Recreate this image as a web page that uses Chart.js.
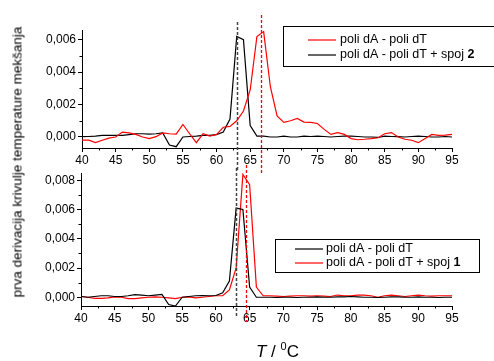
<!DOCTYPE html>
<html>
<head>
<meta charset="utf-8">
<script src="https://cdn.jsdelivr.net/npm/chart.js@4.4.0/dist/chart.umd.min.js"></script>
<style>
  body { margin: 0; background: #fff; }
  #wrap { position: relative; width: 494px; height: 361px; overflow: hidden; font-family: 'Liberation Sans', Arial, sans-serif; }
  #wrap canvas { position: absolute; left: 0; top: 0; }
  #ytitle { position: absolute; left: 17px; top: 162px; transform: translate(-50%, -50%) rotate(-90deg); white-space: nowrap; font-size: 13.5px; color: #000; }
  #xtitle { position: absolute; left: 256px; top: 340px; white-space: nowrap; font-size: 17px; color: #000; }
  #xtitle sup { font-size: 11px; vertical-align: 7px; }
</style>
</head>
<body>
<div id="wrap">
  <canvas id="gornji" width="494" height="361"></canvas>
  <canvas id="donji" width="494" height="361"></canvas>
  <div id="ytitle">prva derivacija krivulje temperature mekšanja</div>
  <div id="xtitle"><i>T</i> / <sup>0</sup>C</div>
</div>
<script>
// temperatura (°C)
var temps = [40,41,42,43,44,45,46,47,48,49,50,51,52,53,54,55,56,57,58,59,
  60,61,62,63,64,65,66,67,68,69,70,71,72,73,74,75,76,77,78,79,
  80,81,82,83,84,85,86,87,88,89,90,91,92,93,94,95];

// gornji graf: poli dA - poli dT (crveno)
var gornjiDna = [-0.0002,-0.0002,-0.00035,-0.0002,-0.00007,0,0.0003,0.00025,0.00016,0,
  -0.0001,0.00002,0.00025,0.0002,0.00018,0.00077,0.0002,-0.00035,0.0002,0.00005,
  0.00015,0.0006,0.00065,0.001,0.0016,0.0029,0.0062,0.0065,0.0031,0.0013,
  0.0009,0.001,0.00114,0.00092,0.0009,0.00083,0.00047,0.00016,0.00027,0.00016,
  -0.0001,-0.00017,-0.00014,-0.0001,-0.00005,0.0002,0.00027,0,-0.00014,-0.0002,
  -0.00035,-0.0001,0.00016,0.0001,0.00012,0.00016];
// gornji graf: poli dA - poli dT + spoj 2 (crno)
var gornjiSpoj2 = [0.00002,0.00003,0.00005,0.0001,0.0001,0.0001,0.0001,0.00015,0.0002,0.0002,
  0.00018,0.0002,0.00025,-0.0005,-0.0006,0,0.00003,0.00005,0.0001,0.0001,
  0.00015,0.0003,0.0011,0.0062,0.006,0.0007,0.00005,0.00005,0,0,
  0.00005,0,0,0.00005,0.00003,0.00005,0.00003,0,0.00003,0.00005,
  0.00005,0.00003,0,0,-0.00003,0.00005,0.00003,0.00002,0,0.00003,
  0.00005,0.00003,0,0,0.00003,0];

// donji graf: poli dA - poli dT (crno)
var donjiDna = [0.00005,0,0.00005,0.0001,0.0001,0.00005,0.00005,0.0001,0.00018,0.00015,
  0.0001,0.00015,0.0002,-0.0005,-0.0006,0,0.00005,0.0001,0.00012,0.0001,
  0.00012,0.0003,0.0011,0.0061,0.006,0.0007,0,0,0,-0.00002,
  0,0,-0.00002,0,0,0.00002,0,0,0.00003,0.00002,
  0.00005,0.00002,0,0,-0.00002,0,0.00003,0.00002,0,0,
  0.00002,0,0,-0.00002,0,0];
// donji graf: poli dA - poli dT + spoj 1 (crveno)
var donjiSpoj1 = [0.00005,0,-0.00008,-0.00008,-0.00005,0.00003,0,-0.0001,-0.0001,-0.00005,
  0,0.00003,0,-0.00005,-0.0001,0,0.00003,-0.00005,0,0.00005,
  0.0001,0.0001,0.0005,0.002,0.0084,0.0077,0.0007,0.0001,0.0001,0.00008,
  0.00005,0.00008,0.0001,0.0001,0.00008,0.0001,0.00008,0.00005,0.00015,0.0001,
  0.0001,0.00015,0.00015,0.0001,0,0.0001,0.00015,0.0001,0.00005,0.0001,
  0.00015,0.0001,0.00008,0.0001,0.0001,0.0001];

var xTicks = [40,45,50,55,60,65,70,75,80,85,90,95];
var yTicksGornji = [0, 0.002, 0.004, 0.006];
var yTicksDonji = [0, 0.002, 0.004, 0.006, 0.008];

// Tm oznake (isprekidane okomite linije)
var tmGornji = [63.0, 66.6];
var tmDonji = [63.0, 64.4];

function tocke(vals){
  return temps.map(function(t, i){ return {x: t, y: vals[i]}; });
}

var font = "'Liberation Sans', Arial, sans-serif";

// manje crtice izmedu glavnih
var minorTicks = {
  id: 'minorTicks',
  afterDraw: function(chart){
    var ctx = chart.ctx, a = chart.chartArea;
    var xs = chart.scales.x, ys = chart.scales.y;
    ctx.save();
    ctx.strokeStyle = '#000';
    ctx.lineWidth = 1;
    ctx.beginPath();
    for (var i = 0; i < xs.ticks.length - 1; i++){
      var m = (xs.ticks[i].value + xs.ticks[i+1].value) / 2;
      var px = Math.round(xs.getPixelForValue(m)) + 0.5;
      ctx.moveTo(px, a.bottom); ctx.lineTo(px, a.bottom + 2.5);
    }
    for (var j = 0; j < ys.ticks.length - 1; j++){
      var n = (ys.ticks[j].value + ys.ticks[j+1].value) / 2;
      var py = Math.round(ys.getPixelForValue(n)) + 0.5;
      ctx.moveTo(a.left, py); ctx.lineTo(a.left - 2.5, py);
    }
    ctx.stroke();
    ctx.restore();
  }
};

// okomite isprekidane linije
var tmLinije = {
  id: 'tmLinije',
  afterDatasetsDraw: function(chart, args, opts){
    var ctx = chart.ctx, xs = chart.scales.x;
    ctx.save();
    opts.linije.forEach(function(l){
      var px = Math.round(xs.getPixelForValue(l.value)) + 0.5;
      ctx.strokeStyle = l.color;
      ctx.lineWidth = l.width;
      ctx.setLineDash([3, 2]);
      ctx.beginPath();
      ctx.moveTo(px, l.from); ctx.lineTo(px, l.to);
      ctx.stroke();
    });
    ctx.restore();
  }
};

// legenda u okviru
var okvirLegenda = {
  id: 'okvirLegenda',
  afterDraw: function(chart, args, opts){
    var ctx = chart.ctx, b = opts.box;
    ctx.save();
    ctx.strokeStyle = '#000';
    ctx.lineWidth = 1;
    ctx.strokeRect(b.x + 0.5, b.y + 0.5, b.w, b.h);
    ctx.textBaseline = 'middle';
    chart.data.datasets.forEach(function(ds, i){
      var y = b.y + opts.row0 + i * opts.rowGap;
      ctx.strokeStyle = ds.borderColor;
      ctx.lineWidth = 1.2;
      ctx.beginPath();
      ctx.moveTo(opts.lineX0, y); ctx.lineTo(opts.lineX1, y);
      ctx.stroke();
      ctx.fillStyle = '#000';
      ctx.font = '12.5px ' + font;
      var tx = opts.textX;
      ctx.fillText(ds.label, tx, y);
      if (ds.bold){
        tx += ctx.measureText(ds.label).width;
        ctx.font = 'bold 12.5px ' + font;
        ctx.fillText(ds.bold, tx, y);
      }
    });
    ctx.restore();
  }
};

function napraviGraf(id, skupovi, ymin, ymax, yTicks, padding, yWidth, linije, legenda){
  return new Chart(document.getElementById(id), {
    type: 'line',
    data: { datasets: skupovi },
    options: {
      responsive: false,
      animation: false,
      devicePixelRatio: 1,
      layout: { padding: padding },
      plugins: {
        legend: { display: false },
        tooltip: { enabled: false },
        tmLinije: { linije: linije },
        okvirLegenda: legenda
      },
      elements: { point: { radius: 0 }, line: { tension: 0, borderWidth: 1.2 } },
      scales: {
        x: {
          type: 'linear', min: 40, max: 95,
          afterBuildTicks: function(s){ s.ticks = xTicks.map(function(v){ return {value: v}; }); },
          afterFit: function(s){ s.height = 22; },
          border: { display: true, color: '#000', width: 1 },
          grid: { display: true, drawOnChartArea: false, drawTicks: true, tickLength: 4, color: '#000' },
          ticks: { color: '#000', font: { family: font, size: 12 }, padding: 1, maxRotation: 0 }
        },
        y: {
          min: ymin, max: ymax,
          afterBuildTicks: function(s){ s.ticks = yTicks.map(function(v){ return {value: v}; }); },
          afterFit: function(s){ s.width = yWidth; },
          border: { display: true, color: '#000', width: 1 },
          grid: { display: true, drawOnChartArea: false, drawTicks: true, tickLength: 4, color: '#000' },
          ticks: {
            color: '#000', font: { family: font, size: 12 }, padding: 2,
            callback: function(v){ return Number(v).toFixed(3).replace('.', ','); }
          }
        }
      }
    },
    plugins: [minorTicks, tmLinije, okvirLegenda]
  });
}

napraviGraf('gornji', [
  { label: 'poli dA - poli dT', data: tocke(gornjiDna), borderColor: '#ff0000' },
  { label: 'poli dA - poli dT + spoj ', bold: '2', data: tocke(gornjiSpoj2), borderColor: '#000000' }
], -0.00068, 0.0066, yTicksGornji, {top: 30, right: 42, bottom: 191, left: 0}, 82,
[
  { value: tmGornji[0], color: '#444444', width: 1.5, from: 22, to: 172 },
  { value: tmGornji[1], color: '#ff0000', width: 1.3, from: 15, to: 175 }
],
{ box: {x: 283, y: 26, w: 240, h: 40}, row0: 14, rowGap: 15, lineX0: 308, lineX1: 336, textX: 340 });

napraviGraf('donji', [
  { label: 'poli dA - poli dT', data: tocke(donjiDna), borderColor: '#000000' },
  { label: 'poli dA - poli dT + spoj ', bold: '1', data: tocke(donjiSpoj1), borderColor: '#ff0000' }
], -0.0006, 0.0085, yTicksDonji, {top: 173, right: 42, bottom: 33, left: 0}, 81,
[
  { value: tmDonji[0], color: '#444444', width: 1.5, from: 168, to: 318 },
  { value: tmDonji[1], color: '#ff0000', width: 1.3, from: 165, to: 322 }
],
{ box: {x: 275, y: 239, w: 204, h: 33}, row0: 10, rowGap: 14, lineX0: 295, lineX1: 323, textX: 326 });
</script>
</body>
</html>
